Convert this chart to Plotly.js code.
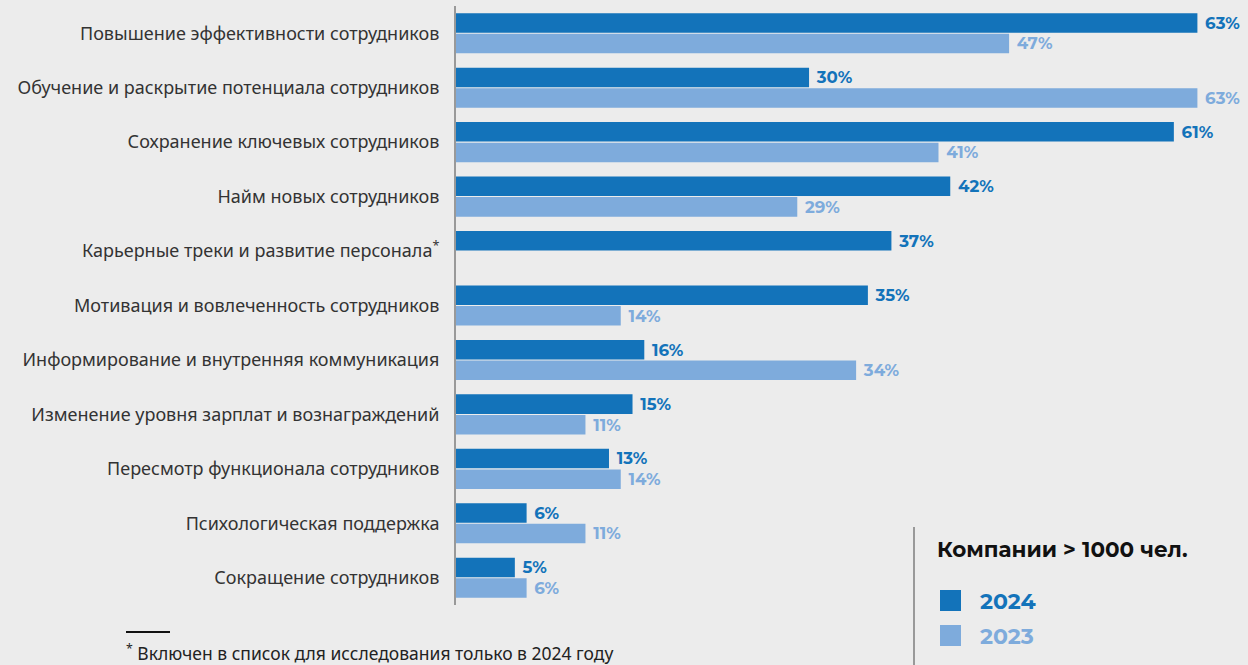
<!DOCTYPE html>
<html><head><meta charset="utf-8">
<script src="https://cdn.plot.ly/plotly-3.0.1.min.js"></script>
<style>html,body{margin:0;padding:0;background:#ececec;}#chart{width:1248px;height:665px;}</style>
</head><body><div id="chart"></div>
<script>
const categories = [
  "Повышение эффективности сотрудников",
  "Обучение и раскрытие потенциала сотрудников",
  "Сохранение ключевых сотрудников",
  "Найм новых сотрудников",
  "Карьерные треки и развитие персонала<sup>*</sup>",
  "Мотивация и вовлеченность сотрудников",
  "Информирование и внутренняя коммуникация",
  "Изменение уровня зарплат и вознаграждений",
  "Пересмотр функционала сотрудников",
  "Психологическая поддержка",
  "Сокращение сотрудников"
];
const values2024 = [63, 30, 61, 42, 37, 35, 16, 15, 13, 6, 5];
const values2023 = [47, 63, 41, 29, null, 14, 34, 11, 14, 11, 6];
const seriesNames = ["2024", "2023"];
const legendTitle = "Компании > 1000 чел.";
const footnote = "<sup>*</sup> Включен в список для исследования только в 2024 году";

const c24 = "#1373ba", c23 = "#7eabdc";
const valFont = "Montserrat, Inter, 'Open Sans', sans-serif";

function bar(vals, name, color) {
  return {
    type: "bar", orientation: "h", name: name,
    y: categories, x: vals,
    marker: {color: color},
    text: vals.map(v => v == null ? " " : " " + v + "%"),
    textposition: "outside",
    textfont: {family: valFont, size: 17, color: color, weight: 700},
    cliponaxis: false,
    hoverinfo: "skip"
  };
}

const data = [bar(values2024, seriesNames[0], c24), bar(values2023, seriesNames[1], c23)];

const layout = {
  width: 1248, height: 665,
  paper_bgcolor: "#ececec", plot_bgcolor: "#ececec",
  margin: {l: 456, r: 0, t: 6, b: 60},
  barmode: "group", bargap: 0.245, bargroupgap: 0.05,
  showlegend: false,
  font: {family: "'Noto Sans', sans-serif", color: "#333"},
  xaxis: {range: [0, 67.3], visible: false, fixedrange: true},
  yaxis: {
    autorange: "reversed", showline: true, linecolor: "#999", linewidth: 2,
    ticks: "outside", ticklen: 11, tickcolor: "rgba(0,0,0,0)",
    tickfont: {size: 18, color: "#333", family: "'Noto Sans', sans-serif"},
    showgrid: false, zeroline: false
  },
  shapes: [
    {type: "line", xref: "paper", yref: "paper", x0: (914-456)/792, x1: (914-456)/792, y0: -0.1, y1: (665-527-60)/599, line: {color: "#999", width: 2}},
    {type: "rect", xref: "paper", yref: "paper", x0: (940-456)/792, x1: (961-456)/792, y0: (665-611-60)/599, y1: (665-590-60)/599, fillcolor: c24, line: {width: 0}},
    {type: "rect", xref: "paper", yref: "paper", x0: (940-456)/792, x1: (961-456)/792, y0: (665-646-60)/599, y1: (665-625-60)/599, fillcolor: c23, line: {width: 0}},
    {type: "line", xref: "paper", yref: "paper", x0: (126-456)/792, x1: (170-456)/792, y0: (665-632-60)/599, y1: (665-632-60)/599, line: {color: "#111", width: 2}}
  ],
  annotations: [
    {xref: "paper", yref: "paper", x: (935-456)/792, y: (665-549-60)/599, xanchor: "left", yanchor: "middle", showarrow: false,
     text: "<b>" + legendTitle + "</b>", font: {family: valFont, size: 21.5, color: "#111"}},
    {xref: "paper", yref: "paper", x: (978-456)/792, y: (665-601-60)/599, xanchor: "left", yanchor: "middle", showarrow: false,
     text: "<b>" + seriesNames[0] + "</b>", font: {family: valFont, size: 22, color: c24}},
    {xref: "paper", yref: "paper", x: (978-456)/792, y: (665-636-60)/599, xanchor: "left", yanchor: "middle", showarrow: false,
     text: "<b>" + seriesNames[1] + "</b>", font: {family: valFont, size: 22, color: c23}},
    {xref: "paper", yref: "paper", x: (124-456)/792, y: (665-653-60)/599, xanchor: "left", yanchor: "middle", showarrow: false,
     text: footnote, font: {family: "'Noto Sans', sans-serif", size: 17.5, color: "#222"}}
  ]
};

Plotly.newPlot("chart", data, layout, {displayModeBar: false, staticPlot: true});
</script></body></html>
